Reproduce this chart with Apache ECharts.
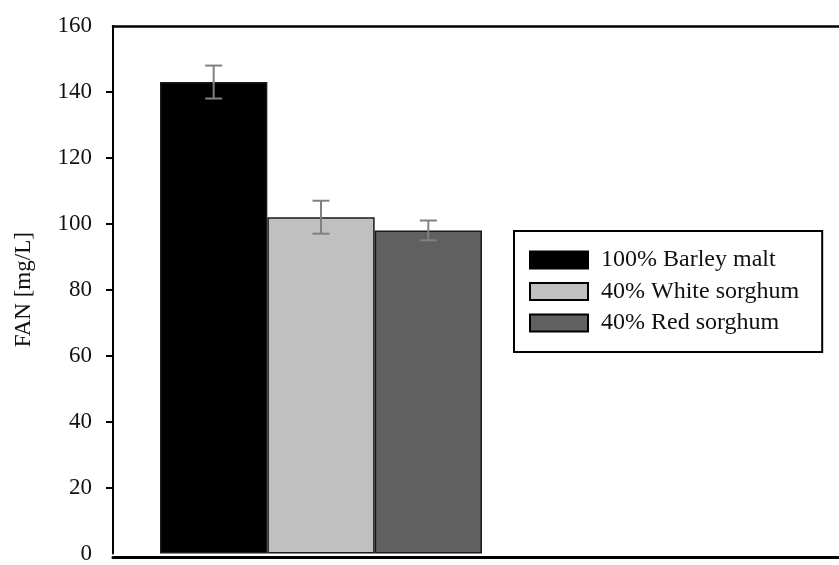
<!DOCTYPE html>
<html>
<head>
<meta charset="utf-8">
<script src="https://cdn.jsdelivr.net/npm/echarts@6/dist/echarts.min.js"></script>
<style>html,body{margin:0;padding:0;background:#fff;}#c{width:839px;height:565px;}</style>
</head>
<body>
<div id="c"></div>
<script>
const seriesNames = ['100% Barley malt', '40% White sorghum', '40% Red sorghum'];
const means = [143, 102, 98];
const errors = [5, 5, 3];
const colors = ['#000000', '#c0c0c0', '#606060'];
const yTicks = [0, 20, 40, 60, 80, 100, 120, 140, 160];
const tickMarks = [20, 40, 60, 80, 100, 120, 140];
const yTitle = 'FAN [mg/L]';

const FONT = 'Liberation Serif';
const catGap = 0.226;

const barSeries = seriesNames.map((n, i) => ({
  name: n,
  type: 'bar',
  xAxisIndex: 0, yAxisIndex: 0,
  barGap: 0,
  barCategoryGap: (catGap * 100) + '%',
  data: [means[i]],
  itemStyle: { color: colors[i], borderColor: '#1a1a1a', borderWidth: 1.5 },
  emphasis: { disabled: true }
}));

const errData = means.map((m, i) => [0, m, errors[i], i]);

const errSeries = {
  type: 'custom',
  xAxisIndex: 0, yAxisIndex: 0,
  data: errData,
  encode: { x: 0, y: 1 },
  z: 10,
  renderItem: function (params, api) {
    const m = api.value(1), e = api.value(2), g = api.value(3);
    const band = api.size([1, 0])[0];
    const bw = band * (1 - catGap) / seriesNames.length;
    const cx = api.coord([0, m])[0] + (g - (seriesNames.length - 1) / 2) * bw;
    const yt = api.coord([0, m + e])[1];
    const yb = api.coord([0, m - e])[1];
    const cap = 8.5;
    const st = { stroke: '#808080', lineWidth: 2 };
    return {
      type: 'group',
      children: [
        { type: 'line', shape: { x1: cx, y1: yt, x2: cx, y2: yb }, style: st },
        { type: 'line', shape: { x1: cx - cap, y1: yt, x2: cx + cap, y2: yt }, style: st },
        { type: 'line', shape: { x1: cx - cap, y1: yb, x2: cx + cap, y2: yb }, style: st }
      ]
    };
  }
};

const chart = echarts.init(document.getElementById('c'), null, { renderer: 'canvas' });
chart.setOption({
  animation: false,
  backgroundColor: '#ffffff',
  textStyle: { fontFamily: FONT },
  grid: [
    { left: 113, top: 26, width: 416, height: 531 },
    { left: 113, top: 26, right: -20, height: 531 }
  ],
  xAxis: [
    { gridIndex: 0, type: 'category', data: [''], axisLine: { show: false }, axisTick: { show: false }, axisLabel: { show: false } },
    { gridIndex: 1, type: 'value', min: 0, max: 1, position: 'bottom', axisLine: { show: true, onZero: false, lineStyle: { color: '#000', width: 3 } }, axisTick: { show: false }, axisLabel: { show: false }, splitLine: { show: false } },
    { gridIndex: 1, type: 'value', min: 0, max: 1, position: 'top', axisLine: { show: true, onZero: false, lineStyle: { color: '#000', width: 2.5 } }, axisTick: { show: false }, axisLabel: { show: false }, splitLine: { show: false } }
  ],
  yAxis: [
    {
      gridIndex: 0, type: 'value', min: 0, max: 160, interval: 20,
      name: yTitle, nameLocation: 'middle', nameGap: 78,
      nameTextStyle: { fontFamily: FONT, fontSize: 23, color: '#111' },
      axisLine: { show: true, onZero: false, lineStyle: { color: '#000', width: 2 } },
      axisTick: { show: true, inside: false, length: 7, customValues: tickMarks, lineStyle: { color: '#000', width: 2 } },
      axisLabel: { fontFamily: FONT, fontSize: 23, color: '#111', margin: 21, customValues: yTicks },
      splitLine: { show: false }
    },
    { gridIndex: 1, type: 'value', min: 0, max: 1, show: false }
  ],
  legend: {
    data: seriesNames,
    orient: 'vertical',
    left: 514, top: 231,
    padding: [17, 23, 17, 15],
    itemGap: 7.5,
    itemWidth: 58, itemHeight: 17,
    icon: 'rect',
    borderColor: '#000', borderWidth: 2,
    backgroundColor: '#fff',
    selectedMode: false,
    textStyle: { fontFamily: FONT, fontSize: 24, color: '#111', padding: [0, 0, 0, 8] },
    itemStyle: { borderColor: '#000', borderWidth: 2 }
  },
  series: [...barSeries, errSeries]
});
</script>
</body>
</html>
